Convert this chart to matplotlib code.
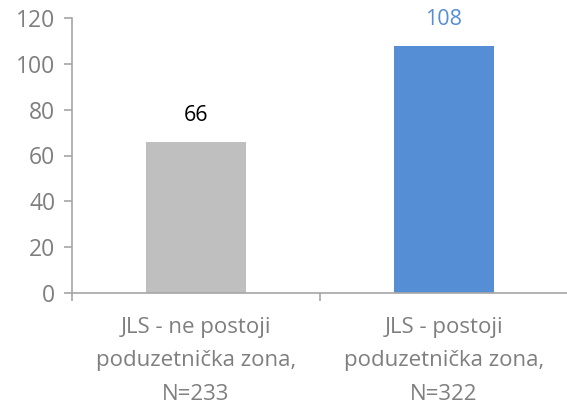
import matplotlib; matplotlib.use("Agg")
import matplotlib.pyplot as plt

categories = ["JLS - ne postoji\npoduzetnička zona,\nN=233", "JLS - postoji\npoduzetnička zona,\nN=322"]
values = [66, 108]
bar_colors = ["#BFBFBF", "#558ED5"]
label_colors = ["#000000", "#558ED5"]
yticks = [0, 20, 40, 60, 80, 100, 120]

plt.rcParams["font.family"] = ["Open Sans", "DejaVu Sans"]
fig = plt.figure(figsize=(5.67, 4.05), dpi=100)
ax = fig.add_axes([72/567, 112/405, 496/567, 275/405])
x = range(len(values))
ax.bar(x, values, width=0.403, color=bar_colors)
for xi, v, c in zip(x, values, label_colors):
    ax.annotate(str(v), (xi, v), xytext=(0, 11), textcoords="offset points",
                ha="center", va="bottom", fontsize=15.5, color=c)
ax.set_xlim(-0.5, 1.5); ax.set_ylim(0, 120)
ax.set_yticks(yticks)
ax.set_xticks([-0.5, 0.5, 1.5]); ax.set_xticklabels([])
ax.set_xticks(list(x), minor=True)
ax.set_xticklabels(categories, minor=True, fontsize=16, color="#7F7F7F", linespacing=1.8)
ax.tick_params(axis="x", which="minor", length=0, pad=17)
ax.tick_params(axis="x", which="major", length=6, color="#A6A6A6", width=1.2)
ax.tick_params(axis="y", length=6, color="#A6A6A6", width=1.2, labelsize=16.5, labelcolor="#7F7F7F", pad=6)
for s in ["top", "right"]: ax.spines[s].set_visible(False)
for s in ["left", "bottom"]:
    ax.spines[s].set_color("#A6A6A6"); ax.spines[s].set_linewidth(1.2)
fig.savefig("out.png", dpi=100)
